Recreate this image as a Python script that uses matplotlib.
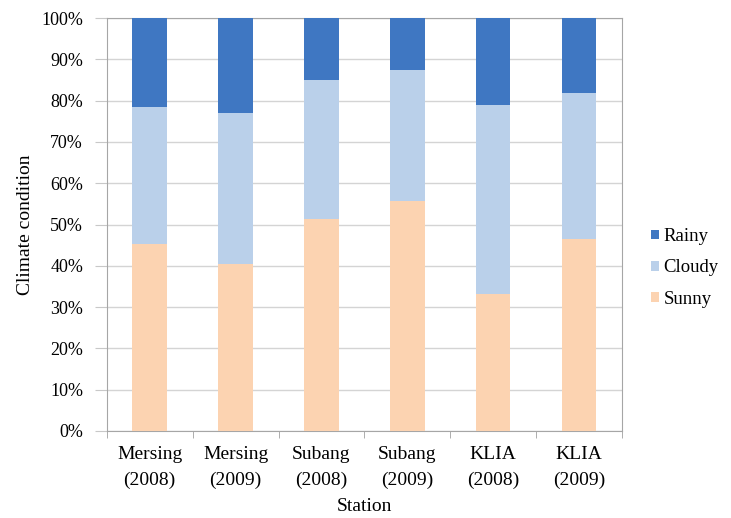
import numpy as np
import matplotlib
matplotlib.use("Agg")
import matplotlib.pyplot as plt
from matplotlib.ticker import PercentFormatter, MultipleLocator

plt.rcParams['font.family'] = ['Liberation Serif', 'DejaVu Serif']

stations = ["Mersing\n(2008)", "Mersing\n(2009)", "Subang\n(2008)",
            "Subang\n(2009)", "KLIA\n(2008)", "KLIA\n(2009)"]
sunny = [45.4, 40.5, 51.4, 55.8, 33.2, 46.5]
cloudy = [33.0, 36.5, 33.6, 31.7, 45.7, 35.4]
rainy = [21.6, 23.0, 15.0, 12.5, 21.1, 18.1]

c_sunny = "#fcd3b1"
c_cloudy = "#bad0ea"
c_rainy = "#3f77c2"

fig = plt.figure(figsize=(7.31, 5.18), dpi=100)
ax = fig.add_axes([0.146, 0.168, 0.705, 0.797])

x = np.arange(len(stations))
w = 0.4
sunny = np.array(sunny)
cloudy = np.array(cloudy)
rainy = np.array(rainy)
b1 = ax.bar(x, sunny, w, color=c_sunny, label="Sunny", zorder=3)
b2 = ax.bar(x, cloudy, w, bottom=sunny, color=c_cloudy, label="Cloudy", zorder=3)
b3 = ax.bar(x, rainy, w, bottom=sunny + cloudy, color=c_rainy, label="Rainy", zorder=3)

ax.set_xlim(-0.5, len(stations) - 0.5)
ax.set_ylim(0, 100)
ax.yaxis.set_major_locator(MultipleLocator(10))
ax.yaxis.set_major_formatter(PercentFormatter(decimals=0))
ax.grid(axis="y", color="#d4d4d4", linewidth=1, zorder=0)

ax.set_xticks(x)
ax.set_xticklabels(stations, fontsize=14, linespacing=1.6)
ax.tick_params(axis="x", length=0, pad=11)
ax.set_xticks(np.arange(-0.5, len(stations)), minor=True)
ax.tick_params(axis="x", which="minor", length=5, color="#a0a0a0")
ax.tick_params(axis="y", labelsize=13, length=9, pad=8, color="#c8c8c8")

for s in ax.spines.values():
    s.set_color("#a6a6a6")

ax.set_xlabel("Station", fontsize=14, labelpad=7)
ax.set_ylabel("Climate condition", fontsize=14, labelpad=5)

fig.legend(handles=[b3, b2, b1], loc="center left",
           bbox_to_anchor=(640 / 731, 1 - 268 / 518),
           frameon=False, fontsize=13.5, handlelength=0.4, handleheight=0.4,
           handletextpad=0.25, labelspacing=0.75, borderaxespad=0.2)

fig.savefig("out.png", dpi=100)
